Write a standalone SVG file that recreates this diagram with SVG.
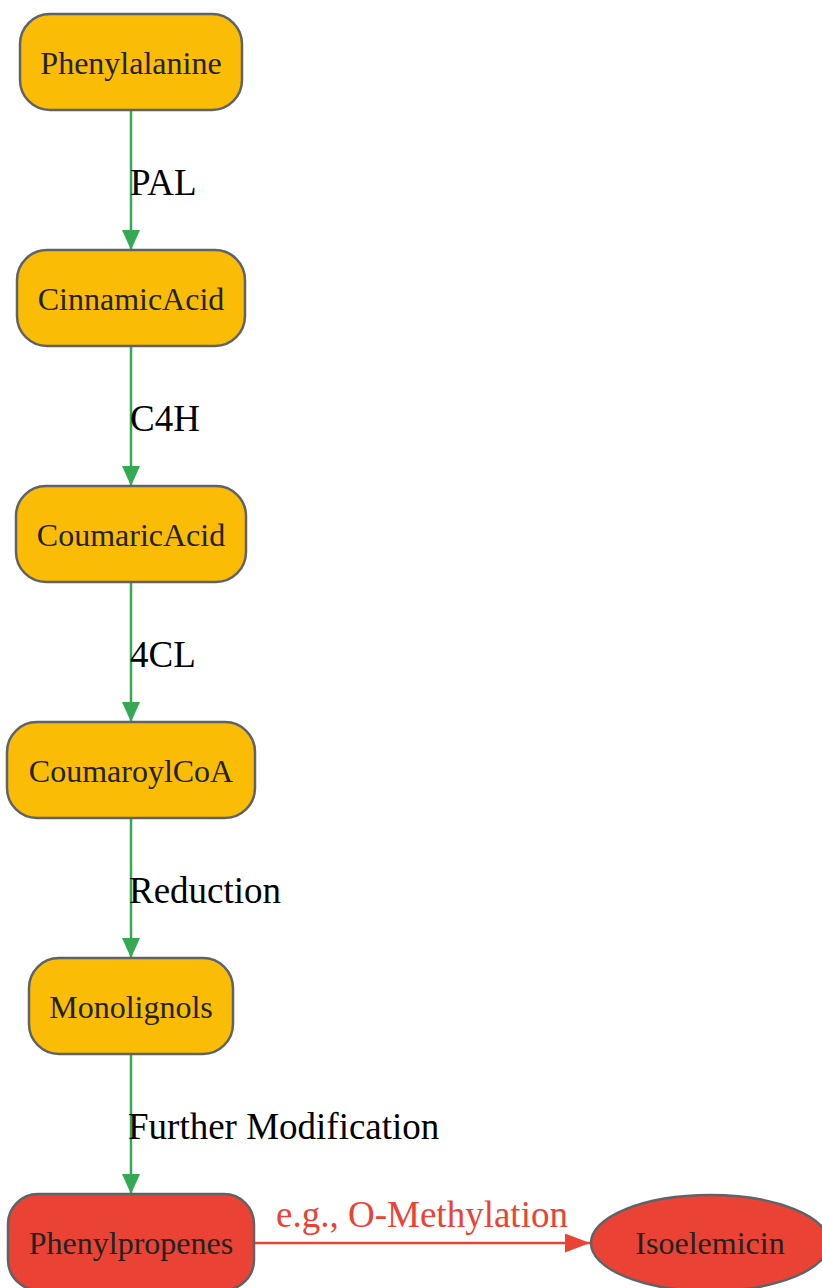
<svg xmlns="http://www.w3.org/2000/svg" width="822" height="1288" viewBox="0 0 822 1288">
<style>
.node{stroke:#5f6368;stroke-width:2.5}
.y{fill:#FBBC05}
.r{fill:#EA4335}
.nt{font-family:"Liberation Serif",serif;font-size:32px;fill:#222222;text-anchor:middle;dominant-baseline:central}
.el{font-family:"Liberation Serif",serif;font-size:37px;fill:#000000}
.g{stroke:#34A853;stroke-width:2.5;fill:none}
.rd{stroke:#EA4335;stroke-width:2.5;fill:none}
.rl{font-family:"Liberation Serif",serif;font-size:37px;fill:#EA4335;text-anchor:middle}
</style>
<defs>
<marker id="ag" viewBox="0 0 20 18" refX="20" refY="9" markerWidth="20" markerHeight="18" markerUnits="userSpaceOnUse" orient="auto"><path d="M0,0 L20,9 L0,18 Z" fill="#34A853"/></marker>
<marker id="ar" viewBox="0 0 25 19" refX="25" refY="9.5" markerWidth="25" markerHeight="19" markerUnits="userSpaceOnUse" orient="auto"><path d="M0,0 L25,9.5 L0,19 Z" fill="#EA4335"/></marker>
</defs>
<g id="connectors">
<line class="g" x1="131" y1="110" x2="131" y2="250" marker-end="url(#ag)"/>
<text class="el" x="130" y="195">PAL</text>
<line class="g" x1="131" y1="346" x2="131" y2="486" marker-end="url(#ag)"/>
<text class="el" x="130" y="431">C4H</text>
<line class="g" x1="131" y1="582" x2="131" y2="722" marker-end="url(#ag)"/>
<text class="el" x="130" y="667">4CL</text>
<line class="g" x1="131" y1="818" x2="131" y2="958" marker-end="url(#ag)"/>
<text class="el" x="129" y="903">Reduction</text>
<line class="g" x1="131" y1="1054" x2="131" y2="1194" marker-end="url(#ag)"/>
<text class="el" x="128" y="1139">Further Modification</text>
<line class="rd" x1="254" y1="1243" x2="590" y2="1243" marker-end="url(#ar)"/>
<text class="rl" x="422" y="1227">e.g., O-Methylation</text>
</g>
<g id="n-phenylalanine">
<rect class="node y" x="20" y="14" width="222" height="96" rx="30"/>
<text class="nt" x="131" y="63">Phenylalanine</text>
</g>
<g id="n-cinnamicacid">
<rect class="node y" x="17" y="250" width="228" height="96" rx="30"/>
<text class="nt" x="131" y="299">CinnamicAcid</text>
</g>
<g id="n-coumaricacid">
<rect class="node y" x="16" y="486" width="230" height="96" rx="30"/>
<text class="nt" x="131" y="535">CoumaricAcid</text>
</g>
<g id="n-coumaroylcoa">
<rect class="node y" x="7" y="722" width="248" height="96" rx="30"/>
<text class="nt" x="131" y="771">CoumaroylCoA</text>
</g>
<g id="n-monolignols">
<rect class="node y" x="29" y="958" width="204" height="96" rx="30"/>
<text class="nt" x="131" y="1007">Monolignols</text>
</g>
<g id="n-phenylpropenes">
<rect class="node r" x="8" y="1194" width="246" height="96" rx="30"/>
<text class="nt" x="131" y="1243">Phenylpropenes</text>
</g>
<g id="n-isoelemicin">
<ellipse class="node r" cx="710" cy="1243" rx="119" ry="48"/>
<text class="nt" x="710" y="1243">Isoelemicin</text>
</g>
</svg>
